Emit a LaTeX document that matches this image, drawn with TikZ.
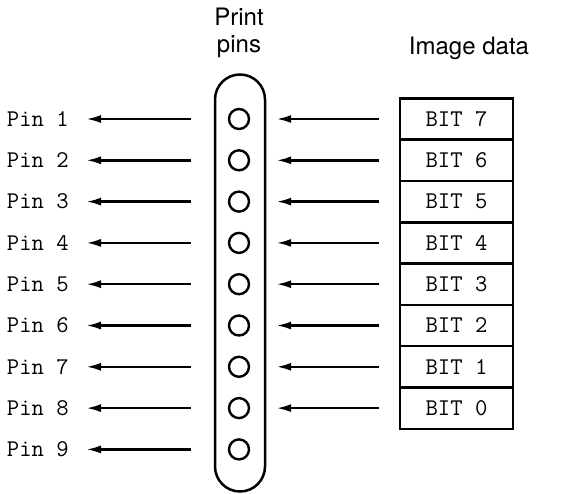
\documentclass[tikz,border=0pt]{standalone}
\usepackage{fontspec}
\setsansfont{TeX Gyre Heros}
\usetikzlibrary{arrows.meta}

\begin{document}
\begin{tikzpicture}[x=0.5pt,y=-0.5pt,line width=1.25pt,
    pinlabel/.style={anchor=east,inner xsep=8pt,font=\ttfamily\fontsize{12}{12}\selectfont},
    hole/.style={draw,circle,line width=1.2pt,minimum size=10pt,inner sep=0pt},
    bitbox/.style={draw,minimum width=56.5pt,minimum height=20.65pt,inner sep=0pt,
      font=\ttfamily\fontsize{12}{12}\selectfont},
    tolabel/.style={-{Latex[length=7.5pt,width=4pt]},shorten <=18.5pt},
    tohole/.style={-{Latex[length=7.5pt,width=4pt]},shorten <=10pt,shorten >=13pt},
    heading/.style={font=\sffamily\fontsize{12}{13.5}\selectfont,align=center}]
      \useasboundingbox (0,0) rectangle (572,493);
      \node (T1) [heading] at (239,33) {Print\\pins};
      \node (T2) [heading,anchor=base] at (469,54) {Image data};
      \node (head) [draw,rounded corners=12.5pt,minimum width=25pt,minimum height=208.5pt]
        at (240,283) {};
%%
      \node (O1) [hole] at (239,119) {};
      \node (O2) [hole] at (239,160.3) {};
      \node (O3) [hole] at (239,201.6) {};
      \node (O4) [hole] at (239,242.9) {};
      \node (O5) [hole] at (239,284.2) {};
      \node (O6) [hole] at (239,325.5) {};
      \node (O7) [hole] at (239,366.8) {};
      \node (O8) [hole] at (239,408.1) {};
      \node (O9) [hole] at (239,449.4) {};
%%
      \node (P1) [pinlabel] at (86,119) {Pin 1};
      \node (P2) [pinlabel] at (86,160.3) {Pin 2};
      \node (P3) [pinlabel] at (86,201.6) {Pin 3};
      \node (P4) [pinlabel] at (86,242.9) {Pin 4};
      \node (P5) [pinlabel] at (86,284.2) {Pin 5};
      \node (P6) [pinlabel] at (86,325.5) {Pin 6};
      \node (P7) [pinlabel] at (86,366.8) {Pin 7};
      \node (P8) [pinlabel] at (86,408.1) {Pin 8};
      \node (P9) [pinlabel] at (86,449.4) {Pin 9};
%%
      \node (B7) [bitbox] at (456.5,119) {BIT 7};
      \node (B6) [bitbox] at (456.5,160.3) {BIT 6};
      \node (B5) [bitbox] at (456.5,201.6) {BIT 5};
      \node (B4) [bitbox] at (456.5,242.9) {BIT 4};
      \node (B3) [bitbox] at (456.5,284.2) {BIT 3};
      \node (B2) [bitbox] at (456.5,325.5) {BIT 2};
      \node (B1) [bitbox] at (456.5,366.8) {BIT 1};
      \node (B0) [bitbox] at (456.5,408.1) {BIT 0};
%%
      \draw [tolabel] (O1) -- (P1);
      \draw [tolabel] (O2) -- (P2);
      \draw [tolabel] (O3) -- (P3);
      \draw [tolabel] (O4) -- (P4);
      \draw [tolabel] (O5) -- (P5);
      \draw [tolabel] (O6) -- (P6);
      \draw [tolabel] (O7) -- (P7);
      \draw [tolabel] (O8) -- (P8);
      \draw [tolabel] (O9) -- (P9);
%%
      \draw [tohole] (B7) -- (O1);
      \draw [tohole] (B6) -- (O2);
      \draw [tohole] (B5) -- (O3);
      \draw [tohole] (B4) -- (O4);
      \draw [tohole] (B3) -- (O5);
      \draw [tohole] (B2) -- (O6);
      \draw [tohole] (B1) -- (O7);
      \draw [tohole] (B0) -- (O8);
    \end{tikzpicture}
\end{document}
